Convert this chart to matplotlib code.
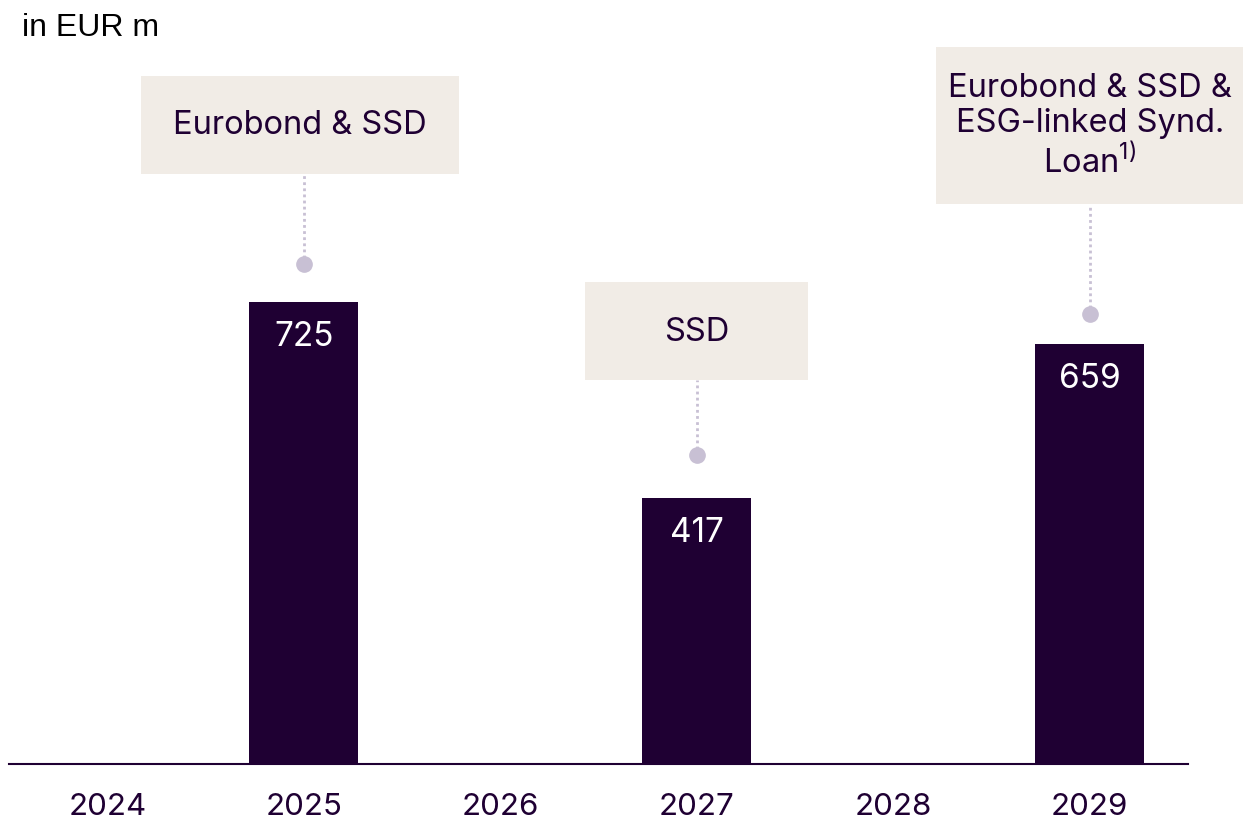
import matplotlib.pyplot as plt
from matplotlib.patches import Rectangle

years = ["2024", "2025", "2026", "2027", "2028", "2029"]
maturities = [0, 725, 0, 417, 0, 659]
box_labels = {1: "Eurobond & SSD",
              3: "SSD",
              5: "Eurobond & SSD &\nESG-linked Synd.\nLoan$^{1)}$"}

# box geometry in data units: (width, gap above bar, height, x shift, dot offset)
box_geom = {1: (1.62, 200, 155, -0.02, 60),
            3: (1.135, 185, 154, 0.0, 68),
            5: (1.56, 220, 246, 0.0, 47)}

dark = "#1f0033"
beige = "#f1ece6"
dot_col = "#c8c0d4"

plt.rcParams["font.family"] = ["Inter", "DejaVu Sans"]
plt.rcParams["mathtext.fontset"] = "custom"
plt.rcParams["mathtext.rm"] = "Inter"
plt.rcParams["mathtext.default"] = "regular"

fig = plt.figure(figsize=(12.43, 8.2), dpi=100)
ax = fig.add_axes([9 / 1243, 55 / 820, 1179 / 1243, 765 / 820])

x = list(range(len(years)))
ax.bar(x, maturities, width=0.555, color=dark, zorder=2)

for i, v in enumerate(maturities):
    if v == 0:
        continue
    ax.text(i, v - 53, str(v), ha="center", va="center", color="white", fontsize=24)
    w, gap, h, dx, dot = box_geom[i]
    bottom = v + gap
    ax.add_patch(Rectangle((i + dx - w / 2, bottom), w, h, facecolor=beige,
                           edgecolor="none", clip_on=False, zorder=1))
    ax.text(i + dx, bottom + h / 2, box_labels[i], ha="center", va="center",
            color=dark, fontsize=23.5, linespacing=1.18, zorder=3)
    ax.plot([i, i], [v + dot, bottom], color=dot_col, linestyle=(0, (1, 1.2)),
            linewidth=2, zorder=1)
    ax.plot(i, v + dot, "o", color=dot_col, markersize=11, zorder=2)

ax.set_xlim(-0.5, 5.5)
ax.set_ylim(0, 1200)
ax.set_xticks(x)
ax.set_xticklabels(years, fontsize=22.5, color=dark)
ax.tick_params(axis="x", length=0, pad=20)
ax.set_yticks([])
for s in ["top", "right", "left"]:
    ax.spines[s].set_visible(False)
ax.spines["bottom"].set_color(dark)
ax.spines["bottom"].set_linewidth(1.5)

fig.text(22 / 1243, 1 - 28 / 820, "in EUR m", fontsize=23, color="black",
         family="Liberation Sans", va="center", ha="left")

fig.savefig("out.png", dpi=100)
